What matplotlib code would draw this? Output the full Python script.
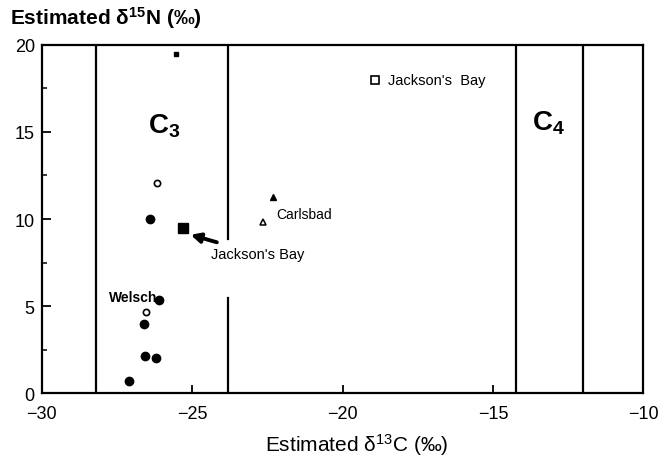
import numpy as np
import matplotlib
matplotlib.use("Agg")
import matplotlib.pyplot as plt

plt.rcParams['font.family'] = ['Liberation Sans', 'DejaVu Sans']
plt.rcParams['mathtext.fontset'] = 'custom'
plt.rcParams['mathtext.rm'] = 'Liberation Sans'
plt.rcParams['mathtext.it'] = 'Liberation Sans:italic'
plt.rcParams['mathtext.bf'] = 'Liberation Sans:bold'

# C3 samples (filled = collagen, open = other)
c3_filled_x = [-26.40, -26.09, -26.59, -26.55, -26.21, -27.09]
c3_filled_y = [10.0, 5.36, 3.97, 2.15, 2.04, 0.73]
c3_open_x = [-26.18, -26.53]
c3_open_y = [12.05, 4.67]

# Jackson's Bay
jb_filled_x = [-25.31]
jb_filled_y = [9.47]
jb_open_x = [-18.92]
jb_open_y = [17.99]

# Carlsbad
cb_filled_x = [-22.30]
cb_filled_y = [11.25]
cb_open_x = [-22.66]
cb_open_y = [9.82]

# stray mark near the top
mark_x = [-25.52]
mark_y = [19.47]

# photosynthetic pathway ranges
c3_range = [-28.19, -23.82]
c4_range = [-14.24, -12.02]
c3_gap = [5.5, 8.85]  # where the Jackson's Bay label breaks the line

xticks = [-30, -25, -20, -15, -10]
yticks = [0, 5, 10, 15, 20]

fig = plt.figure(figsize=(6.59, 4.60), dpi=100)
ax = fig.add_axes([0.0633, 0.1424, 0.9129, 0.7583])

ax.set_xlim(-30, -10)
ax.set_ylim(0, 20)

lw = 1.6
for s in ax.spines.values():
    s.set_linewidth(lw)

# range boundaries
ax.axvline(c3_range[0], color='k', lw=lw)
ax.plot([c3_range[1], c3_range[1]], [0, c3_gap[0]], color='k', lw=lw)
ax.plot([c3_range[1], c3_range[1]], [c3_gap[1], 20], color='k', lw=lw)
for x in c4_range:
    ax.axvline(x, color='k', lw=lw)

ax.plot(c3_filled_x, c3_filled_y, 'o', color='k', ms=6)
ax.plot(c3_open_x, c3_open_y, 'o', mfc='white', mec='k', ms=4.5, mew=1.2)
ax.plot(jb_filled_x, jb_filled_y, 's', color='k', ms=6.5)
ax.plot(jb_open_x, jb_open_y, 's', mfc='white', mec='k', ms=5.5, mew=1.2)
ax.plot(cb_filled_x, cb_filled_y, '^', color='k', ms=5)
ax.plot(cb_open_x, cb_open_y, '^', mfc='white', mec='k', ms=5, mew=1.1)
ax.plot(mark_x, mark_y, 's', color='k', ms=2.5)

# labels
ax.text(-25.92, 15.36, r'$\mathbf{C}_\mathbf{3}$', fontsize=20, ha='center', va='center')
ax.text(-13.16, 15.55, r'$\mathbf{C}_\mathbf{4}$', fontsize=20, ha='center', va='center')
ax.text(-26.16, 5.51, 'Welsch', fontsize=10, fontweight='bold', ha='right', va='center')
ax.text(-22.21, 10.29, 'Carlsbad', fontsize=10, ha='left', va='center')
ax.text(-18.49, 17.99, "Jackson's  Bay", fontsize=10.5, ha='left', va='center')
ax.annotate("Jackson's Bay", xy=(-25.05, 9.1), xytext=(-24.37, 8.0),
            fontsize=10.5, ha='left', va='center',
            arrowprops=dict(arrowstyle='-|>', color='k', lw=2.8,
                            mutation_scale=14, shrinkA=5, shrinkB=0))

ax.set_xticks(xticks)
ax.set_xticklabels(['\u221230', '\u221225', '\u221220', '\u221215', '\u221210'])
ax.set_yticks(yticks)
ax.set_yticks([2.5, 7.5, 12.5, 17.5], minor=True)
ax.tick_params(axis='both', which='major', direction='in', labelsize=13, width=1.3)
ax.tick_params(axis='x', which='major', length=5.5, pad=8)
ax.tick_params(axis='y', which='major', length=6.5, pad=5)
ax.tick_params(axis='y', which='minor', direction='in', length=3.6, width=1.1)

fig.text(10 / 659, 1 - 25 / 460, 'Estimated \u03b4$^{\\mathbf{15}}$N (‰)',
         fontsize=15, fontweight='bold', ha='left', va='baseline')
fig.text(356.5 / 659, 1 - 452 / 460, 'Estimated \u03b4$^{13}$C (‰)',
         fontsize=15, ha='center', va='baseline')

fig.savefig('out.png', dpi=100)
